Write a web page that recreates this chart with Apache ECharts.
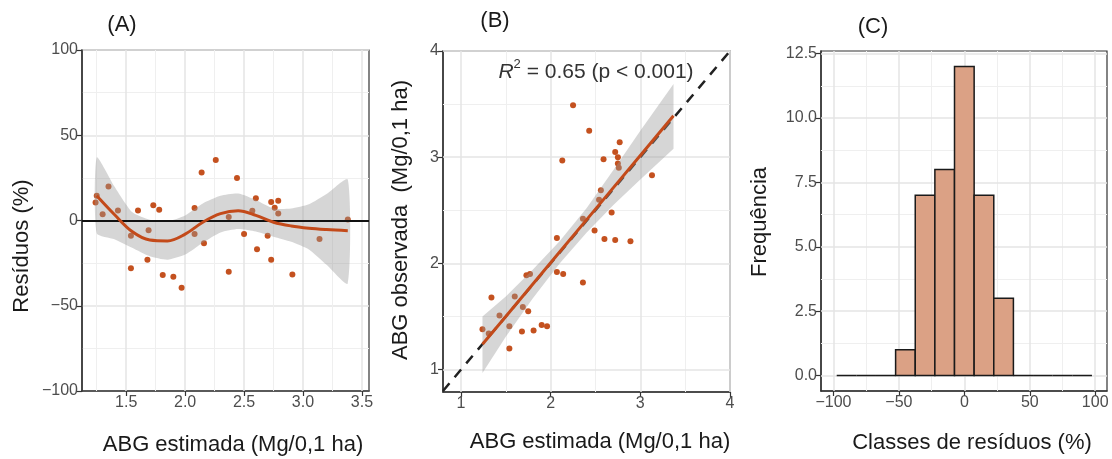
<!DOCTYPE html>
<html>
<head>
<meta charset="utf-8">
<script src="https://cdn.jsdelivr.net/npm/echarts@6/dist/echarts.min.js"></script>
<style>
  html, body { margin: 0; padding: 0; background: #fff; }
  #chart { width: 1112px; height: 459px; }
</style>
</head>
<body>
<div id="chart"></div>
<script>
// (A) residuos x ABG estimada
const residX = [1.24, 1.25, 1.35, 1.30, 1.43, 1.54, 1.54, 1.60, 1.69, 1.68, 1.73, 1.78, 1.81, 1.90, 1.97, 2.08, 2.08, 2.14, 2.16, 2.26, 2.37, 2.37, 2.44, 2.50, 2.57, 2.60, 2.61, 2.70, 2.73, 2.73, 2.79, 2.76, 2.79, 2.91, 3.14, 3.38]
const residY = [10.5, 14.5, 20, 3.7, 5.9, -9, -28, 5.9, -5.7, -23, 8.9, 6.3, -32, -33, -39.5, 7.3, -7.9, 28.2, -13.4, 35.5, -30, 2, 25, -7.9, 5.7, 13, -16.8, -8.9, -23, 10.8, 11.6, 7.5, 4.1, -31.6, -10.8, 0.6]
const loessX = [1.25, 1.4, 1.55, 1.7, 1.85, 2.0, 2.15, 2.3, 2.45, 2.6, 2.75, 2.9, 3.05, 3.2, 3.38]
const loessY = [14.5, 3.5, -6.5, -11.5, -12, -8, -1, 4, 5.7, 3, -1, -3.2, -4.5, -5.3, -6]
const loessLo = [-7.5, -11, -16, -21, -23, -20, -13, -7, -5, -6.5, -9.5, -12.5, -17, -26, -37]
const loessHi = [37, 20, 5, 0.5, -0.5, 3, 10, 14.5, 15.8, 12, 7, 7, 9.5, 15.5, 24]
const aTicksX = [1.5, 2.0, 2.5, 3.0, 3.5]
const aMinorX = [1.25, 1.75, 2.25, 2.75, 3.25]

// (B) observada x estimada
const estX = [2.25, 2.43, 2.77, 2.72, 2.75, 2.59, 2.13, 2.75, 2.76, 3.13, 2.56, 2.54, 2.68, 2.36, 2.49, 2.07, 2.60, 2.72, 2.89, 2.07, 2.14, 2.36, 1.73, 1.77, 1.34, 1.60, 1.43, 1.69, 1.75, 1.24, 1.31, 1.54, 1.68, 1.81, 1.90, 1.96, 1.54]
const obsY = [3.49, 3.25, 3.14, 3.05, 3.00, 2.98, 2.97, 2.94, 2.90, 2.83, 2.69, 2.60, 2.48, 2.42, 2.31, 2.24, 2.23, 2.22, 2.21, 1.92, 1.90, 1.82, 1.89, 1.90, 1.68, 1.69, 1.51, 1.59, 1.55, 1.38, 1.34, 1.41, 1.36, 1.37, 1.42, 1.41, 1.20]
const fitX = [1.24, 1.5, 1.8, 2.1, 2.4, 2.7, 3.0, 3.37]
const fitY = [1.24, 1.50, 1.805, 2.108, 2.41, 2.714, 3.017, 3.39]
const fitLo = [0.97, 1.31, 1.67, 2.00, 2.29, 2.55, 2.79, 3.08]
const fitHi = [1.50, 1.69, 1.94, 2.21, 2.52, 2.88, 3.25, 3.69]
const identity = [0.8, 4]
const bTicks = [1, 2, 3, 4]
const bMinor = [1.5, 2.5, 3.5]

// (C) histograma dos residuos
const binEdges = [-97.5, -82.5, -67.5, -52.5, -37.5, -22.5, -7.5, 7.5, 22.5, 37.5, 52.5, 67.5, 82.5, 97.5]
const binCounts = [0, 0, 0, 1, 7, 8, 12, 7, 3, 0, 0, 0, 0]
const cTicksX = [-100, -50, 0, 50, 100]
const cMinorX = [-75, -25, 25, 75]
const cTicksY = [0, 2.5, 5, 7.5, 10, 12.5]
const cMinorY = [1.25, 3.75, 6.25, 8.75, 11.25]

const FONT = 'Liberation Sans, Arial, sans-serif'
const INK = '#1a1a1a'
const TXT = '#4d4d4d'
const FRAME = '#333'
const PT = '#c4511f'
const FIT = '#c34a1a'
const BAND = 'rgba(153,153,153,0.4)'
const MAJ = { color: '#e4e4e4', width: 1.5, type: 'solid' }
const MNR = { color: '#efefef', width: 1, type: 'solid' }

function sgn(v, d) {
  const s = Math.abs(v).toFixed(d)
  return v < 0 ? '\u2212' + s : s
}

function axis(gi, pos, min, max, ticks, fmt) {
  return {
    type: 'value', gridIndex: gi, position: pos, min: min, max: max,
    axisLine: { show: true, onZero: false, lineStyle: { color: FRAME, width: 1.5 } },
    axisTick: { show: true, length: 5, customValues: ticks, lineStyle: { color: FRAME, width: 1.2 } },
    axisLabel: { customValues: ticks, formatter: fmt, color: TXT, fontSize: 16, fontFamily: FONT, margin: 4 },
    splitLine: { show: false }
  }
}

// background grid drawn as markLines (axis min values are not tick multiples)
function gridLines(vMaj, vMin, hMaj, hMin) {
  const d = []
  vMin.forEach(v => d.push({ xAxis: v, lineStyle: MNR }))
  hMin.forEach(v => d.push({ yAxis: v, lineStyle: MNR }))
  vMaj.forEach(v => d.push({ xAxis: v, lineStyle: MAJ }))
  hMaj.forEach(v => d.push({ yAxis: v, lineStyle: MAJ }))
  return { z: 1, silent: true, symbol: 'none', label: { show: false }, animation: false, data: d }
}

// confidence band as one polygon built from the band arrays
function band(gi, xs, lo, hi, z, smooth) {
  return {
    type: 'custom', xAxisIndex: gi, yAxisIndex: gi, z: z, silent: true, data: [0],
    renderItem: (params, api) => {
      const pts = []
      xs.forEach((x, i) => pts.push(api.coord([x, hi[i]])))
      for (let i = xs.length - 1; i >= 0; i--) pts.push(api.coord([xs[i], lo[i]]))
      return { type: 'polygon', shape: { points: pts, smooth: smooth }, style: { fill: BAND } }
    }
  }
}

function label(text, x, y, rot, size) {
  return {
    type: 'text', x: x, y: y, rotation: rot || 0,
    style: { text: text, fill: INK, font: (size || 22) + 'px ' + FONT, align: 'center', verticalAlign: 'middle' }
  }
}

const histData = binCounts.map((c, i) => [binEdges[i], binEdges[i + 1], c])

const option = {
  animation: false,
  backgroundColor: '#fff',
  grid: [
    { left: 82, top: 50, width: 287, height: 341, show: true, borderColor: FRAME, borderWidth: 1.2, backgroundColor: '#fff' },
    { left: 443, top: 51, width: 287, height: 341, show: true, borderColor: FRAME, borderWidth: 1.2, backgroundColor: '#fff' },
    { left: 821, top: 51, width: 286, height: 340, show: true, borderColor: FRAME, borderWidth: 1.2, backgroundColor: '#fff' }
  ],
  xAxis: [
    axis(0, 'bottom', 1.125, 3.56, aTicksX, v => v.toFixed(1)),
    axis(1, 'bottom', 0.8, 4, bTicks, v => String(v)),
    axis(2, 'bottom', -109.5, 109, cTicksX, v => sgn(v, 0))
  ],
  yAxis: [
    Object.assign(axis(0, 'left', -100, 100, null, v => sgn(v, 0)), {
      interval: 50,
      axisTick: { show: true, length: 5, lineStyle: { color: FRAME, width: 1.2 } },
      axisLabel: { formatter: v => sgn(v, 0), color: TXT, fontSize: 16, fontFamily: FONT, margin: 4 },
      splitLine: { show: true, lineStyle: MAJ },
      minorTick: { show: false, splitNumber: 2 },
      minorSplitLine: { show: true, lineStyle: MNR }
    }),
    axis(1, 'left', 0.79, 4, bTicks, v => String(v)),
    axis(2, 'left', -0.6, 12.6, cTicksY, v => v.toFixed(1))
  ],
  graphic: [
    label('(A)', 122, 25),
    label('(B)', 495, 21),
    label('(C)', 873, 27),
    label('Resíduos (%)', 22, 246, Math.PI / 2),
    label('ABG estimada (Mg/0,1 ha)', 233, 445),
    label('ABG observada  (Mg/0,1 ha)', 401, 220, Math.PI / 2),
    label('ABG estimada (Mg/0,1 ha)', 600, 442),
    label('Frequência', 760, 222, Math.PI / 2),
    label('Classes de resíduos (%)', 972, 443),
    {
      type: 'text', x: 596, y: 72, z: 10,
      style: {
        text: '{i|R}{s|2}{n| = 0.65 (p < 0.001)}', align: 'center', verticalAlign: 'middle',
        rich: {
          i: { fontStyle: 'italic', fontSize: 21, fontFamily: FONT, fill: '#333', lineHeight: 28 },
          s: { fontSize: 13, fontFamily: FONT, fill: '#333', lineHeight: 15, verticalAlign: 'top' },
          n: { fontSize: 21, fontFamily: FONT, fill: '#333', lineHeight: 28 }
        }
      }
    }
  ],
  series: [
    // A
    { type: 'scatter', xAxisIndex: 0, yAxisIndex: 0, z: 2, symbolSize: 6, itemStyle: { color: PT, opacity: 1 },
      data: residX.map((x, i) => [x, residY[i]]),
      markLine: gridLines(aTicksX, aMinorX, [], []) },
    band(0, loessX, loessLo, loessHi, 3, 0.2),
    { type: 'line', xAxisIndex: 0, yAxisIndex: 0, z: 5, symbol: 'none', smooth: 0.35,
      lineStyle: { color: FIT, width: 3 }, data: loessX.map((x, i) => [x, loessY[i]]),
      markLine: { z: 4, silent: true, symbol: 'none', label: { show: false }, animation: false,
        lineStyle: { color: '#111', width: 2, type: 'solid' }, data: [{ yAxis: 0 }] } },
    // B
    { type: 'scatter', xAxisIndex: 1, yAxisIndex: 1, z: 2, symbolSize: 6, itemStyle: { color: PT, opacity: 1 },
      data: estX.map((x, i) => [x, obsY[i]]),
      markLine: gridLines(bTicks, bMinor, bTicks, bMinor) },
    { type: 'line', xAxisIndex: 1, yAxisIndex: 1, z: 3, symbol: 'none',
      lineStyle: { color: '#222', width: 2.5, type: [10, 8] }, data: identity.map(v => [v, v]) },
    band(1, fitX, fitLo, fitHi, 4, 0),
    { type: 'line', xAxisIndex: 1, yAxisIndex: 1, z: 5, symbol: 'none',
      lineStyle: { color: FIT, width: 3 }, data: fitX.map((x, i) => [x, fitY[i]]) },
    // C
    { type: 'custom', xAxisIndex: 2, yAxisIndex: 2, z: 3, data: histData,
      encode: { x: [0, 1], y: 2 },
      markLine: gridLines(cTicksX, cMinorX, cTicksY, cMinorY),
      renderItem: (params, api) => {
        const p0 = api.coord([api.value(0), api.value(2)])
        const p1 = api.coord([api.value(1), 0])
        return {
          type: 'rect',
          shape: { x: p0[0], y: p0[1], width: p1[0] - p0[0], height: p1[1] - p0[1] },
          style: { fill: '#dba185', stroke: '#1a1a1a', lineWidth: 1.5 }
        }
      } }
  ]
}

const chart = echarts.init(document.getElementById('chart'), null, { renderer: 'canvas' })
chart.setOption(option)
</script>
</body>
</html>
